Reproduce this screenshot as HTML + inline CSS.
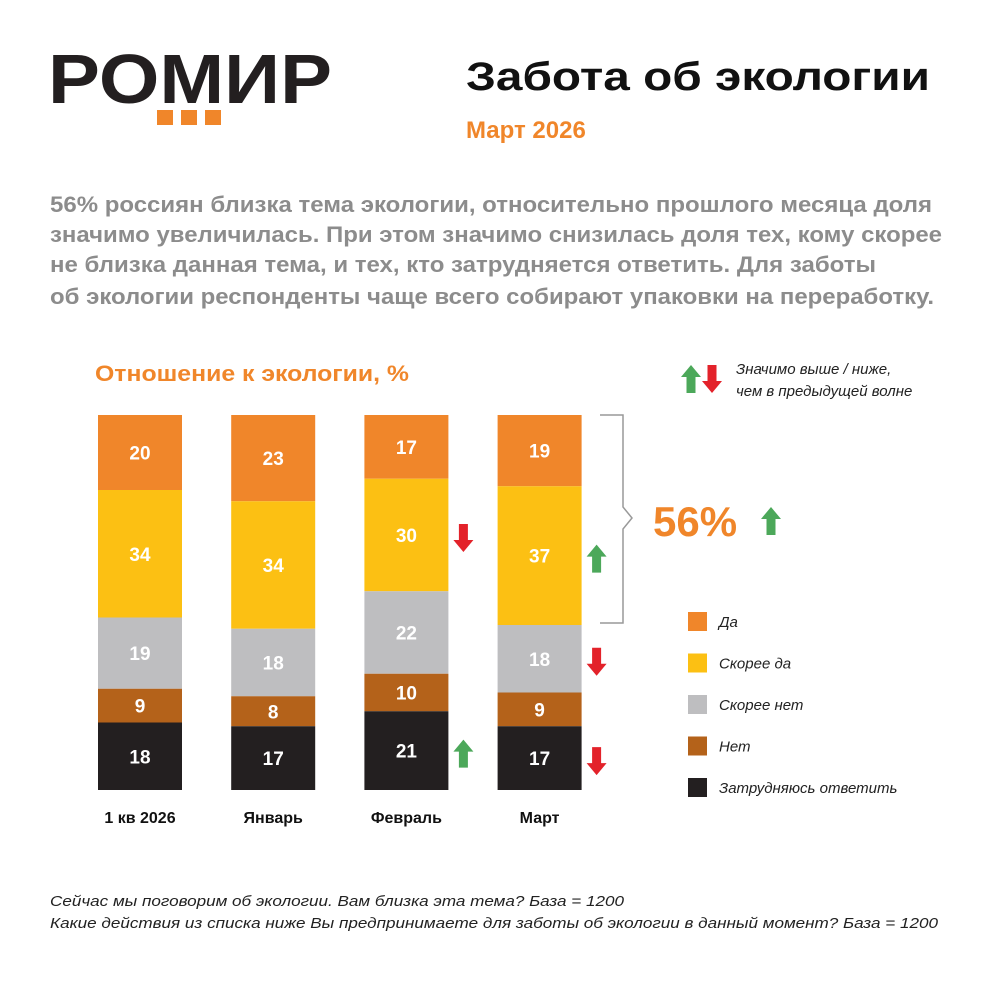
<!DOCTYPE html>
<html><head><meta charset="utf-8">
<style>
html,body{margin:0;padding:0;background:#fff;}
svg{display:block;font-family:"Liberation Sans",Arial,sans-serif;}
</style></head>
<body>
<svg id="c" width="1000" height="1000" viewBox="0 0 1000 1000">
  <g>
    <text x="48" y="103" font-size="70" font-weight="bold" fill="#231F20" textLength="284" lengthAdjust="spacingAndGlyphs">РОМИР</text>
    <rect x="157" y="110" width="16" height="15" fill="#F0862A"/>
    <rect x="181" y="110" width="16" height="15" fill="#F0862A"/>
    <rect x="205" y="110" width="16" height="15" fill="#F0862A"/>
  </g>
  <text x="466" y="90" font-size="40" font-weight="bold" fill="#111" textLength="464" lengthAdjust="spacingAndGlyphs">Забота об экологии</text>
  <text x="466" y="138" font-size="24" font-weight="bold" fill="#F0862A">Март 2026</text>
  <g font-size="22" font-weight="bold" fill="#8C8C8C">
    <text x="50" y="212" textLength="882" lengthAdjust="spacingAndGlyphs">56% россиян близка тема экологии, относительно прошлого месяца доля</text>
    <text x="50" y="242" textLength="892" lengthAdjust="spacingAndGlyphs">значимо увеличилась. При этом значимо снизилась доля тех, кому скорее</text>
    <text x="50" y="272" textLength="826" lengthAdjust="spacingAndGlyphs">не близка данная тема, и тех, кто затрудняется ответить. Для заботы</text>
    <text x="50" y="304" textLength="884" lengthAdjust="spacingAndGlyphs">об экологии респонденты чаще всего собирают упаковки на переработку.</text>
  </g>
  <text x="95" y="381" font-size="22" font-weight="bold" fill="#F0862A" textLength="314" lengthAdjust="spacingAndGlyphs">Отношение к экологии, %</text>
  <g id="bars"></g>
  <g id="arrows"></g>
  <path d="M600 415 H623 V507 L632 518 L623 529 V623 H600" fill="none" stroke="#999" stroke-width="1.5"/>
  <text x="653" y="536" font-size="42" font-weight="bold" fill="#F0862A">56%</text>
  <g id="legend"></g>
  <text x="736" y="374" font-size="15" font-style="italic" fill="#222">Значимо выше / ниже,</text>
  <text x="736" y="396" font-size="15" font-style="italic" fill="#222">чем в предыдущей волне</text>
  <g font-size="15" font-style="italic" fill="#222">
    <text x="50" y="906" textLength="574" lengthAdjust="spacingAndGlyphs">Сейчас мы поговорим об экологии. Вам близка эта тема? База = 1200</text>
    <text x="50" y="928" textLength="888" lengthAdjust="spacingAndGlyphs">Какие действия из списка ниже Вы предпринимаете для заботы об экологии в данный момент? База = 1200</text>
  </g>
</svg>
<script>
const categories = ["1 кв 2026","Январь","Февраль","Март"];
const seriesNames = ["Да","Скорее да","Скорее нет","Нет","Затрудняюсь ответить"];
const yes = [20,23,17,19];
const ratherYes = [34,34,30,37];
const ratherNo = [19,18,22,18];
const no = [9,8,10,9];
const hard = [18,17,21,17];
// significance: [categoryIndex, seriesIndex, direction]
const sigCat = [2,2,3,3,3];
const sigSeries = [1,4,1,2,4];
const sigDir = ["down","up","up","down","down"];

const series = [yes,ratherYes,ratherNo,no,hard];
const colors = ["#F0862A","#FCC013","#BEBEC0","#B4621A","#231F20"];
const NS="http://www.w3.org/2000/svg";
const top0=415, plotH=375, barW=84, x0=98, step=133.2;
const yScale = v => v/100*plotH;
const xPos = i => x0 + i*step;
function mk(tag, attrs, parent){const e=document.createElementNS(NS,tag);for(const k in attrs)e.setAttribute(k,attrs[k]);parent.appendChild(e);return e;}
const bars=document.getElementById('bars');
const segTop=[];
categories.forEach((c,i)=>{
  let y=top0; segTop[i]=[];
  series.forEach((s,j)=>{
    const h=yScale(s[i]);
    segTop[i][j]=[y,h];
    const r=mk('rect',{x:xPos(i),y:y,width:barW,height:h,fill:colors[j]},bars);
    
    
    const t=mk('text',{x:xPos(i)+barW/2,y:y+h/2+7,'text-anchor':'middle','font-size':19,'font-weight':'bold',fill:'#fff'},bars);
    t.textContent=s[i];
    
    
    y+=h;
  });
  const l=mk('text',{x:xPos(i)+barW/2,y:823,'text-anchor':'middle','font-size':16,'font-weight':'bold',fill:'#111'},bars);
  l.textContent=c;
  
  
});
const arrows=document.getElementById('arrows');
function arrow(cx,cy,dir,parent){
  const w=20,h=28,sw=9,hh=12;
  let p;
  if(dir==='up') p=[[cx,cy-h/2],[cx+w/2,cy-h/2+hh],[cx+sw/2,cy-h/2+hh],[cx+sw/2,cy+h/2],[cx-sw/2,cy+h/2],[cx-sw/2,cy-h/2+hh],[cx-w/2,cy-h/2+hh]];
  else p=[[cx,cy+h/2],[cx+w/2,cy+h/2-hh],[cx+sw/2,cy+h/2-hh],[cx+sw/2,cy-h/2],[cx-sw/2,cy-h/2],[cx-sw/2,cy+h/2-hh],[cx-w/2,cy+h/2-hh]];
  const e=mk('polygon',{points:p.map(q=>q.join(',')).join(' '),fill:dir==='up'?'#4CA85A':'#E3222A'},parent);
  return e;
}
sigCat.forEach((ci,k)=>{
  const [y,h]=segTop[ci][sigSeries[k]];
  const a=arrow(xPos(ci)+barW+15,y+h/2+3,sigDir[k],arrows);
  
  
});
let a1=arrow(771,521,'up',arrows);


let a2=arrow(691,379,'up',arrows);


let a3=arrow(712,379,'down',arrows);


const legend=document.getElementById('legend');
seriesNames.forEach((n,j)=>{
  const y=612+j*41.5;
  const r=mk('rect',{x:688,y:y,width:19,height:19,fill:colors[j]},legend);
  
  
  const t=mk('text',{x:719,y:y+15,'font-size':15,'font-style':'italic',fill:'#222'},legend);
  t.textContent=n;
  
  
});
</script>
</body></html>
